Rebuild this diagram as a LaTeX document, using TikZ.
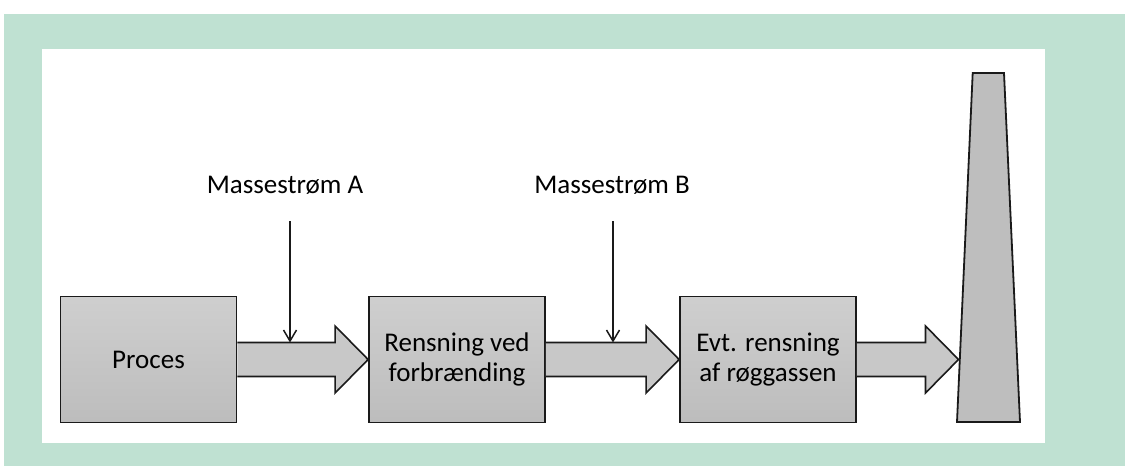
\documentclass[tikz,border=0pt]{standalone}
\usepackage{fontspec}
\setmainfont{Carlito}
\usetikzlibrary{calc,arrows.meta}
\definecolor{panelgreen}{RGB}{191,225,210}
\definecolor{inkgray}{RGB}{26,26,26}
\definecolor{stackgray}{RGB}{190,190,190}
\definecolor{flowgray}{RGB}{200,200,200}

% wide block arrow from the east side of one node to a target point
\newcommand{\blockflow}[2]{%
  \path[blockarrow] let \p1=(#1.east), \p2=(#2) in
    (\x1,{\y1+17}) -- ({\x2-33},{\y1+17}) -- ({\x2-33},{\y1+33.5})
      -- (\x2,\y1) -- ({\x2-33},{\y1-33.5}) -- ({\x2-33},{\y1-17}) -- (\x1,{\y1-17});%
}

\begin{document}
\begin{tikzpicture}[x=1pt,y=-1pt,
  stage/.style={draw=inkgray, line width=1.8pt, top color=black!19, bottom color=black!26,
    minimum width=176pt, minimum height=126pt, inner sep=0pt, align=center,
    text=black, font=\fontsize{27}{30}\selectfont},
  blockarrow/.style={draw=inkgray, line width=1.6pt, fill=flowgray, line join=miter},
  feed/.style={draw=inkgray, line width=1.5pt, -{Straight Barb[length=11pt,width=13pt]}},
  streamlabel/.style={anchor=base, inner sep=0pt, text=black, font=\fontsize{27}{30}\selectfont}]
\useasboundingbox (0,0) rectangle (1125,466);
\fill[white] (0,0) rectangle (1125,466);
\fill[panelgreen] (4,14) rectangle (1125,466);
\fill[white] (42,49) rectangle (1045,443);

% process stages
\node[stage] (proc) at (148.5,359.5) {Proces};
\node[stage] (burn) at (457,359.5) {Rensning ved\\forbrænding};
\node[stage] (flue) at (768,359.5) {Evt. rensning\\af røggassen};

% chimney
\draw[draw=inkgray, line width=1.8pt, fill=stackgray, line join=miter]
  (957,422) -- (972.7,73) -- (1004,73) -- (1020,422) -- cycle;
\coordinate (stackin) at (958.5,359.5);

% flows between the stages
\blockflow{proc}{burn.west}
\blockflow{burn}{flue.west}
\blockflow{flue}{stackin}

% incoming mass flows
\node[streamlabel] (lblA) at (285,193) {Massestrøm A};
\node[streamlabel] (lblB) at (612,193) {Massestrøm B};
\coordinate (srcA) at (290,221);
\coordinate (srcB) at (613,221);
\coordinate (joinA) at (290,342.5);
\coordinate (joinB) at (613,342.5);
\draw[feed] (srcA) -- (joinA);
\draw[feed] (srcB) -- (joinB);
\end{tikzpicture}
\end{document}
